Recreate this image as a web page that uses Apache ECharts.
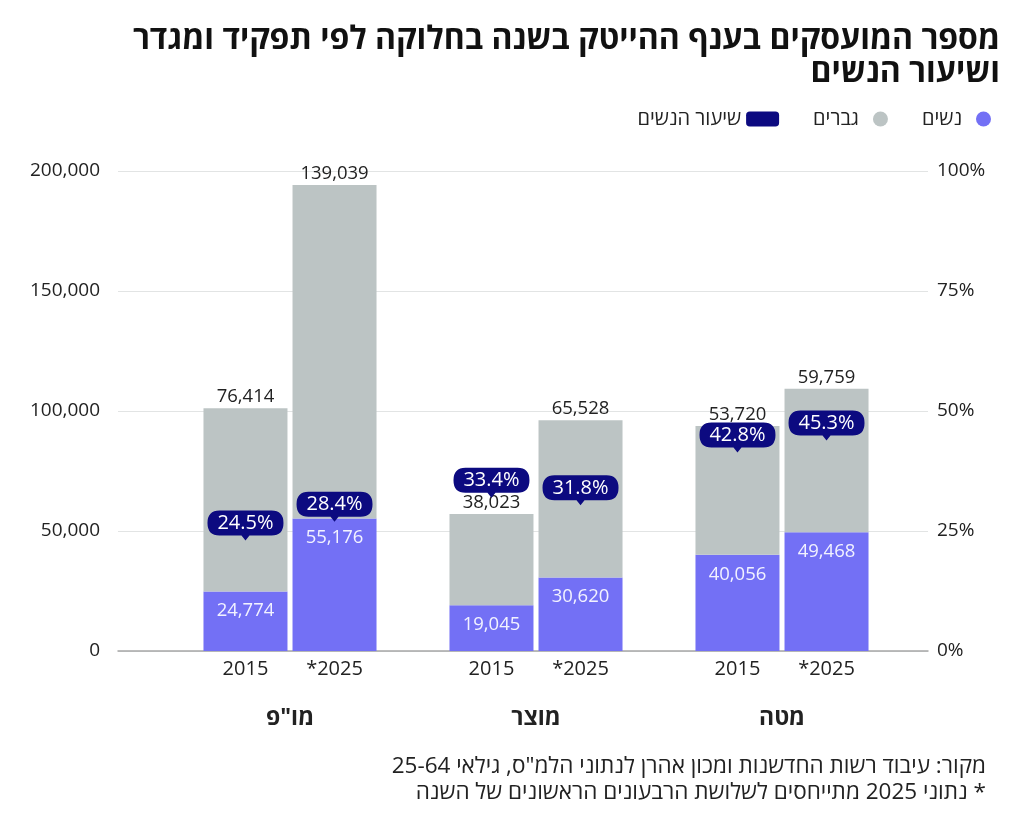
<!DOCTYPE html>
<html>
<head>
<meta charset="utf-8">
<script src="https://cdn.jsdelivr.net/npm/echarts@6/dist/echarts.min.js"></script>
<style>
  html, body { margin: 0; padding: 0; background: #fff; }
  #chart { width: 1024px; height: 820px; }
</style>
</head>
<body>
<div id="chart" dir="rtl"></div>
<script>
// נתונים
const groups = ['מו"פ', 'מוצר', 'מטה'];
const years = ['2015', '2025*'];
const women2015 = [24774, 19045, 40056];
const men2015 = [76414, 38023, 53720];
const women2025 = [55176, 30620, 49468];
const men2025 = [139039, 65528, 59759];
const share2015 = [24.5, 33.4, 42.8];
const share2025 = [28.4, 31.8, 45.3];
const countTicks = [0, 50000, 100000, 150000, 200000];
const shareTicks = [0, 25, 50, 75, 100];

const womenColor = '#7370f5';
const menColor = '#bcc4c4';
const navy = '#0c0a80';
const textColor = '#222';
const font = "'Open Sans', 'Liberation Sans', sans-serif";

const countMax = countTicks[countTicks.length - 1];
const shareMax = shareTicks[shareTicks.length - 1];

function fmt(v) {
    return Number(v).toLocaleString('en-US');
}

// בועת אחוז
const bubble = 'path://M12,0 L64,0 Q76,0 76,12.5 Q76,25 64,25 L42,25 L38,30 L34,25 L12,25 Q0,25 0,12.5 Q0,0 12,0 Z';

function shareMarks(list) {
    return {
        symbol: bubble,
        symbolSize: [76, 30],
        symbolOffset: [0, -8],
        silent: true,
        itemStyle: { color: navy },
        label: {
            show: true,
            position: 'inside',
            offset: [0, -2],
            color: '#fff',
            fontSize: 20,
            fontFamily: font,
            formatter: p => p.value.toFixed(1) + '%'
        },
        data: list.map((v, i) => ({ coord: [i, v * countMax / shareMax], value: v }))
    };
}

function yearSeries(stack, label) {
    return {
        name: 'year' + stack,
        type: 'bar',
        stack: stack,
        xAxisIndex: 1,
        yAxisIndex: 2,
        barWidth: 84,
        barGap: '6%',
        silent: true,
        data: groups.map(() => 0),
        itemStyle: { color: 'transparent' },
        label: {
            show: true,
            position: 'bottom',
            distance: 8,
            color: textColor,
            fontSize: 20,
            fontFamily: font,
            formatter: () => label
        }
    };
}

function womenSeries(stack, data, shares) {
    return {
        name: 'נשים',
        type: 'bar',
        stack: stack,
        xAxisIndex: 1,
        yAxisIndex: 2,
        barWidth: 84,
        barGap: '6%',
        data: data,
        itemStyle: { color: womenColor },
        label: {
            show: true,
            position: 'insideTop',
            distance: 10,
            color: '#f2f2ff',
            fontSize: 18.5,
            fontFamily: font,
            formatter: p => fmt(p.value)
        },
        markPoint: shareMarks(shares)
    };
}

function menSeries(stack, data) {
    return {
        name: 'גברים',
        type: 'bar',
        stack: stack,
        xAxisIndex: 1,
        yAxisIndex: 2,
        barWidth: 84,
        barGap: '6%',
        data: data,
        itemStyle: { color: menColor },
        label: {
            show: true,
            position: 'top',
            distance: 2,
            color: textColor,
            fontSize: 18.5,
            fontFamily: font,
            formatter: p => fmt(p.value)
        }
    };
}

const chart = echarts.init(document.getElementById('chart'));

const option = {
    backgroundColor: '#fff',
    animation: false,
    legend: {
        right: 28,
        top: 104,
        align: 'right',
        itemWidth: 33,
        itemHeight: 15,
        itemGap: 34,
        textStyle: { fontFamily: font, fontSize: 20, color: textColor },
        data: [
            { name: 'שיעור הנשים', icon: 'roundRect' },
            { name: 'גברים', icon: 'circle' },
            { name: 'נשים', icon: 'circle' }
        ]
    },
    grid: [
        { left: 118, right: 96, top: 171, bottom: 169 },
        { left: 167, right: 119, top: 171, bottom: 169 }
    ],
    xAxis: [
        {
            gridIndex: 0, type: 'value', min: 0, max: 1,
            axisLine: { show: true, lineStyle: { color: '#a7a7a7', width: 1.5 } },
            axisTick: { show: false }, axisLabel: { show: false }, splitLine: { show: false }
        },
        {
            gridIndex: 1, type: 'category', data: groups,
            axisLine: { show: false }, axisTick: { show: false },
            axisLabel: {
                margin: 56,
                color: textColor,
                fontSize: 23,
                fontWeight: 'bold',
                fontFamily: font
            }
        }
    ],
    yAxis: [
        {
            gridIndex: 0, type: 'value', min: 0, max: countMax, interval: countTicks[1],
            axisLine: { show: false }, axisTick: { show: false },
            splitLine: { lineStyle: { color: '#e2e4e4' } },
            axisLabel: { margin: 18, color: textColor, fontSize: 19, fontFamily: font, formatter: v => fmt(v) }
        },
        {
            gridIndex: 0, type: 'value', position: 'right', min: 0, max: shareMax, interval: shareTicks[1],
            axisLine: { show: false }, axisTick: { show: false }, splitLine: { show: false },
            axisLabel: { margin: 9, color: textColor, fontSize: 19, fontFamily: font, formatter: '{value}%' }
        },
        {
            gridIndex: 1, type: 'value', min: 0, max: countMax, show: false
        }
    ],
    series: [
        yearSeries('a', years[0]),
        womenSeries('a', women2015, share2015),
        menSeries('a', men2015),
        yearSeries('b', years[1]),
        womenSeries('b', women2025, share2025),
        menSeries('b', men2025),
        {
            name: 'שיעור הנשים',
            type: 'scatter',
            xAxisIndex: 1,
            yAxisIndex: 2,
            data: [],
            itemStyle: { color: navy, opacity: 1 }
        }
    ],
    graphic: [
        {
            type: 'text',
            right: 24,
            top: 23,
            style: {
                text: 'מספר המועסקים בענף ההייטק בשנה בחלוקה לפי תפקיד ומגדר\nושיעור הנשים',
                font: "bold 32px 'Open Sans', 'Liberation Sans', sans-serif",
                lineHeight: 33,
                textAlign: 'right',
                fill: '#111'
            }
        },
        {
            type: 'text',
            right: 38,
            top: 755,
            style: {
                text: 'מקור: עיבוד רשות החדשנות ומכון אהרן לנתוני הלמ"ס, גילאי 25-64',
                font: "22.5px 'Open Sans', 'Liberation Sans', sans-serif",
                fill: textColor
            }
        },
        {
            type: 'text',
            right: 38,
            top: 781,
            style: {
                text: '* נתוני 2025 מתייחסים לשלושת הרבעונים הראשונים של השנה',
                font: "22.5px 'Open Sans', 'Liberation Sans', sans-serif",
                fill: textColor
            }
        }
    ]
};

chart.setOption(option);
</script>
</body>
</html>
